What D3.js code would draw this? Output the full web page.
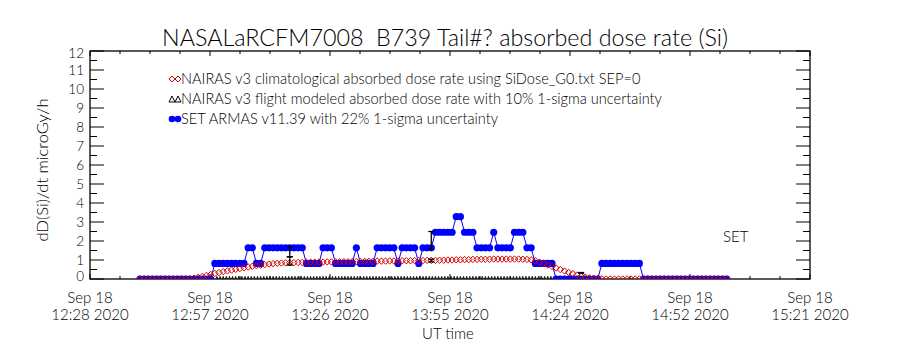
<!DOCTYPE html>
<html>
<head>
<meta charset="utf-8">
<script src="https://cdn.jsdelivr.net/npm/d3@7/dist/d3.min.js"></script>
<style>
  body { margin: 0; background: #fff; }
  svg text { font-family: Lato, "Liberation Sans", sans-serif; font-weight: 300; fill: #000; white-space: pre; }
</style>
</head>
<body>
<svg id="chart" width="900" height="350"></svg>
<script>
// ---- chart text ----
const titleText = "NASALaRCFM7008  B739 Tail#? absorbed dose rate (Si)";
const yTitle = "dD(Si)/dt microGy/h";
const xTitle = "UT time";
const legendLabels = [
  "NAIRAS v3 climatological absorbed dose rate using SiDose_G0.txt SEP=0",
  "NAIRAS v3 flight modeled absorbed dose rate with 10% 1-sigma uncertainty",
  "SET ARMAS v11.39 with 22% 1-sigma uncertainty"
];
const instrumentTag = "SET";

// ---- axes ----
const xStart = "2020-09-18T12:28:00Z";
const xEnd = "2020-09-18T15:21:00Z";
const xTickDate = "Sep 18";
const xTickTimes = ["12:28 2020", "12:57 2020", "13:26 2020", "13:55 2020", "14:24 2020", "14:52 2020", "15:21 2020"];
const yTicks = [0, 1, 2, 3, 4, 5, 6, 7, 8, 9, 10, 11, 12];

// ---- data: one sample per minute starting 12:40 UT ----
const sampleStart = "2020-09-18T12:40:00Z";
const sampleStepMin = 1;

// SET ARMAS measured absorbed dose rate (microGy/h)
const armasDose = [
  0, 0, 0, 0, 0, 0, 0, 0, 0, 0, 0, 0, 0, 0, 0, 0, 0, 0,
  0.82, 0.82, 0.82, 0.82, 0.82, 0.82, 0.82, 0.82,
  1.64, 1.64,
  0.82, 0.82,
  1.64, 1.64, 1.64, 1.64, 1.64, 1.64, 1.64, 1.64, 1.64, 1.64,
  0.82, 0.82, 0.82, 0.82,
  1.64, 1.64, 1.64,
  0.82, 0.82, 0.82, 0.82, 0.82,
  1.64,
  0.82, 0.82, 0.82, 0.82,
  1.64, 1.64, 1.64, 1.64, 1.64,
  0.82,
  1.64, 1.64, 1.64, 1.64,
  0.82,
  1.64, 1.64, 1.64,
  2.46, 2.46, 2.46, 2.46, 2.46,
  3.28, 3.28,
  2.46, 2.46, 2.46,
  1.64, 1.64, 1.64, 1.64,
  2.46,
  1.64, 1.64, 1.64, 1.64,
  2.46, 2.46, 2.46,
  1.64, 1.64,
  0.82, 0.82, 0.82, 0.82, 0.82,
  0, 0, 0, 0, 0, 0, 0, 0, 0, 0, 0,
  0.82, 0.82, 0.82, 0.82, 0.82, 0.82, 0.82, 0.82, 0.82, 0.82,
  0, 0, 0, 0, 0, 0, 0, 0, 0, 0, 0, 0, 0, 0, 0, 0, 0, 0, 0, 0, 0
];

// NAIRAS climatological absorbed dose rate (microGy/h)
const nairasClimDose = [
  0, 0, 0, 0, 0, 0, 0, 0, 0, 0, 0, 0, 0,
  0.04, 0.09, 0.14, 0.19, 0.24, 0.29, 0.34, 0.39, 0.43, 0.47, 0.51, 0.55,
  0.59, 0.63, 0.67, 0.70, 0.73, 0.76, 0.79, 0.81, 0.83, 0.84, 0.85, 0.86,
  0.86, 0.87, 0.87, 0.88, 0.88, 0.88, 0.89, 0.89, 0.90, 0.90,
  0.90, 0.91, 0.91, 0.91, 0.92, 0.92, 0.92, 0.93, 0.93, 0.93, 0.94, 0.94,
  0.94, 0.95, 0.95, 0.95, 0.96, 0.96, 0.96, 0.97, 0.97, 0.97, 0.98, 0.98,
  0.98, 0.99, 0.99, 1.00, 1.00, 1.01, 1.01, 1.02, 1.02, 1.03, 1.03, 1.04,
  1.04, 1.04, 1.05, 1.05, 1.05, 1.05, 1.05, 1.05, 1.05, 1.04, 1.03, 1.01,
  0.96, 0.89, 0.82, 0.74, 0.66, 0.58, 0.50, 0.42, 0.35, 0.28, 0.21, 0.15,
  0.10, 0.06, 0.04, 0.02, 0.01,
  0, 0, 0, 0, 0, 0, 0, 0, 0, 0, 0, 0, 0, 0, 0, 0, 0, 0, 0, 0, 0, 0, 0, 0, 0, 0, 0, 0, 0, 0
];

// NAIRAS flight-modeled dose along the cruise, one value every 45 s from 12:58:30 UT
const flightStart = "2020-09-18T12:58:30Z";
const flightStepMin = 0.75;
const flightDose = [
  0, 0, 0, 0, 0, 0, 0, 0, 0, 0, 0, 0, 0, 0, 0, 0, 0, 0, 0, 0,
  0, 0, 0, 0, 0, 0, 0, 0, 0, 0, 0, 0, 0, 0, 0, 0, 0, 0, 0, 0,
  0, 0, 0, 0, 0, 0, 0, 0, 0, 0, 0, 0, 0, 0, 0, 0, 0, 0, 0, 0,
  0, 0, 0, 0, 0, 0, 0, 0, 0, 0, 0, 0, 0, 0, 0, 0, 0, 0, 0, 0,
  0, 0, 0, 0, 0, 0, 0, 0, 0, 0, 0, 0, 0, 0, 0, 0, 0, 0, 0, 0,
  0, 0, 0, 0, 0, 0, 0, 0
];

// flight-modeled estimates with 1-sigma bounds: minute index on the 1-min grid, low, high
const estIndex = [36, 36, 70, 70, 106];
const estLow = [1.17, 0.73, 1.58, 0.9, 0.3];
const estHigh = [1.7, 1.17, 2.5, 1.04, 0.34];

// ---- layout ----
const plot = { left: 90, right: 810, top: 51, bottom: 279 };

const svg = d3.select("#chart");
const parse = s => new Date(s);
const t0 = parse(xStart), t1 = parse(xEnd);
const x = d3.scaleTime().domain([t0, t1]).range([plot.left, plot.right]);
const y = d3.scaleLinear().domain([0, 12]).range([plot.bottom, plot.top]);

const s0 = parse(sampleStart).getTime();
const timeAt = i => new Date(s0 + i * sampleStepMin * 60000);
const f0 = parse(flightStart).getTime();

svg.append("defs").append("clipPath").attr("id", "plot-clip")
  .append("rect")
  .attr("x", plot.left).attr("y", plot.top)
  .attr("width", plot.right - plot.left).attr("height", plot.bottom - plot.top);

// title
svg.append("text")
  .attr("x", 445).attr("y", 46)
  .attr("text-anchor", "middle")
  .style("font-size", "23.3px")
  .text(titleText);

// x ticks: 6 major intervals, 4 minor per interval, on bottom and top edges
const span = t1 - t0;
const nMajor = xTickTimes.length - 1;
const xMajor = d3.range(nMajor + 1).map(k => new Date(t0.getTime() + k * span / nMajor));
const xMinor = d3.range(nMajor * 4 + 1).map(k => new Date(t0.getTime() + k * span / (nMajor * 4)));

const axes = svg.append("g").attr("stroke", "#000").attr("stroke-width", 1);
[plot.bottom, plot.top].forEach(edge => {
  const dir = edge === plot.bottom ? -1 : 1;
  axes.selectAll(null).data(xMinor).enter().append("line")
    .attr("x1", d => x(d)).attr("x2", d => x(d))
    .attr("y1", edge).attr("y2", (d, i) => edge + dir * (i % 4 === 0 ? 5 : 3));
});

// y ticks: integers long, halves short, on both sides
const yMinor = d3.range(0, 12.01, 0.5);
[plot.left, plot.right].forEach(edge => {
  const dir = edge === plot.left ? 1 : -1;
  axes.selectAll(null).data(yMinor).enter().append("line")
    .attr("x1", edge).attr("x2", d => edge + dir * (Number.isInteger(d) ? 14 : 7))
    .attr("y1", d => y(d)).attr("y2", d => y(d));
});

// frame
svg.append("rect")
  .attr("x", plot.left).attr("y", plot.top)
  .attr("width", plot.right - plot.left).attr("height", plot.bottom - plot.top)
  .attr("fill", "none").attr("stroke", "#000").attr("stroke-width", 1.3);

// x tick labels
const xl = svg.append("g").style("font-size", "15px").attr("text-anchor", "middle");
xMajor.forEach((d, i) => {
  xl.append("text").attr("x", x(d)).attr("y", 303).text(xTickDate);
  xl.append("text").attr("x", x(d)).attr("y", 320).text(xTickTimes[i]);
});
svg.append("text").attr("x", 448).attr("y", 339).attr("text-anchor", "middle")
  .style("font-size", "15px").text(xTitle);

// y tick labels, the end labels pulled inside the frame's vertical extent
const yl = svg.append("g").style("font-size", "13.5px").attr("text-anchor", "end");
yTicks.forEach(v => {
  const cy = Math.min(Math.max(y(v), plot.top + 2), plot.bottom - 3);
  yl.append("text").attr("x", 84).attr("y", cy + 5).text(v);
});
svg.append("text")
  .attr("transform", `translate(48,170) rotate(-90)`)
  .attr("text-anchor", "middle")
  .style("font-size", "16.5px")
  .text(yTitle);

// ---- series ----
const armas = armasDose.map((v, i) => ({ t: timeAt(i), v }));
const clim = nairasClimDose.map((v, i) => ({ t: timeAt(i), v }));
const flight = flightDose.map((v, i) => ({ t: new Date(f0 + i * flightStepMin * 60000), v }));

const blue = "#0000ff", red = "#d00000";
const data = svg.append("g").attr("clip-path", "url(#plot-clip)");
const triangle = (cx, cy, r) => `M${cx - r * 0.6},${cy + r}L${cx},${cy - r}L${cx + r * 0.6},${cy + r}Z`;
const diamond = (cx, cy, r) => `M${cx},${cy - r}L${cx + r},${cy}L${cx},${cy + r}L${cx - r},${cy}Z`;

// flight model: small open triangles
data.append("g").selectAll("path").data(flight).enter().append("path")
  .attr("d", d => triangle(x(d.t), y(d.v), 2.6))
  .attr("fill", "none").attr("stroke", "#000").attr("stroke-width", 0.9);

// ARMAS: thin connecting line plus filled dots
data.append("path")
  .datum(armas)
  .attr("fill", "none").attr("stroke", blue).attr("stroke-width", 1)
  .attr("d", d3.line().x(d => x(d.t)).y(d => y(d.v)));
data.append("g").selectAll("circle").data(armas).enter().append("circle")
  .attr("cx", d => x(d.t)).attr("cy", d => y(d.v)).attr("r", 3.6).attr("fill", blue);

// climatological model: open diamonds
data.append("g").selectAll("path").data(clim).enter().append("path")
  .attr("d", d => diamond(x(d.t), y(d.v), 3.2))
  .attr("fill", "none").attr("stroke", red).attr("stroke-width", 1);

// flight-modeled estimates: error bars
const est = estIndex.map((k, i) => ({ t: timeAt(k), lo: estLow[i], hi: estHigh[i] }));
const fg = data.append("g").attr("stroke", "#000").attr("stroke-width", 1.3).attr("fill", "none");
est.forEach(d => {
  const cx = x(d.t);
  fg.append("line").attr("x1", cx).attr("x2", cx).attr("y1", y(d.lo)).attr("y2", y(d.hi));
  fg.append("line").attr("x1", cx - 3).attr("x2", cx + 3).attr("y1", y(d.lo)).attr("y2", y(d.lo));
  fg.append("line").attr("x1", cx - 3).attr("x2", cx + 3).attr("y1", y(d.hi)).attr("y2", y(d.hi));
});

// ---- legend ----
const lg = svg.append("g").style("font-size", "14.6px");
const legendY = [79, 99, 119];
legendLabels.forEach((txt, i) => {
  lg.append("text").attr("x", 181).attr("y", legendY[i] + 5).text(txt);
});
lg.append("line").attr("x1", 172).attr("x2", 178).attr("y1", legendY[2]).attr("y2", legendY[2]).attr("stroke", blue);
[172, 178].forEach(cx => {
  lg.append("path").attr("d", diamond(cx, legendY[0], 3)).attr("fill", "none").attr("stroke", red);
  lg.append("path").attr("d", `M${cx - 3},${legendY[1] + 3}L${cx},${legendY[1] - 3}L${cx + 3},${legendY[1] + 3}Z`)
    .attr("fill", "none").attr("stroke", "#000");
  lg.append("circle").attr("cx", cx).attr("cy", legendY[2]).attr("r", 3.3).attr("fill", blue);
});

svg.append("text").attr("x", 723).attr("y", 242).style("font-size", "15px").text(instrumentTag);
</script>
</body>
</html>
